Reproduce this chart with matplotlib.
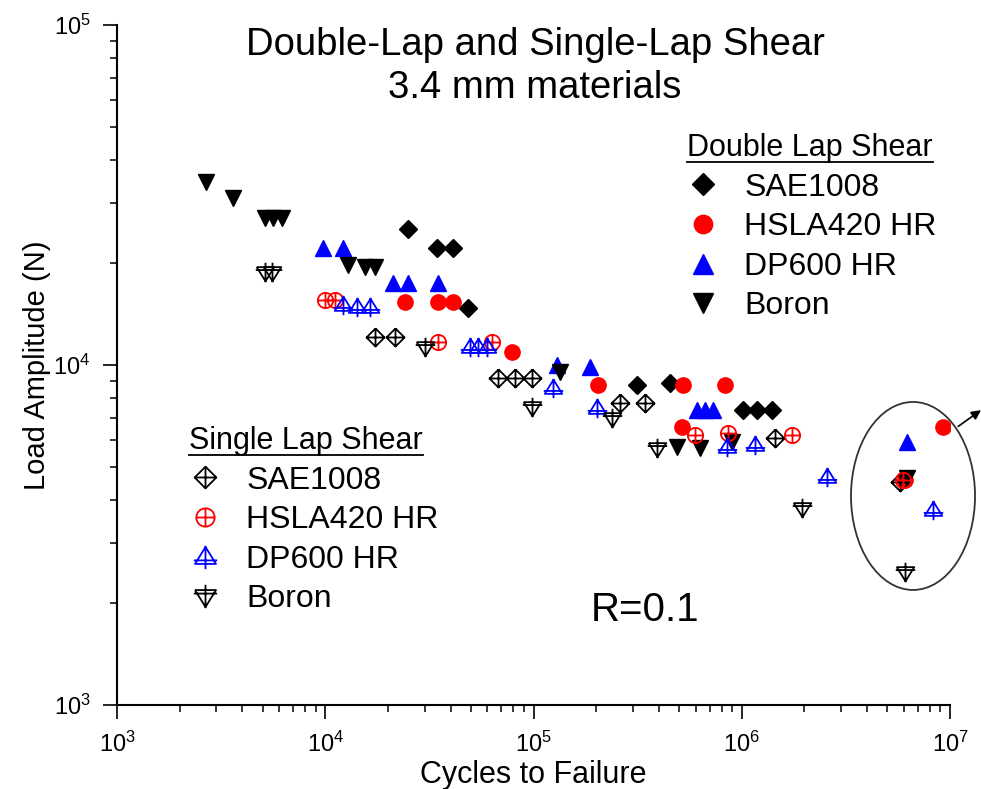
import numpy as np
import matplotlib
matplotlib.use("Agg")
import matplotlib.pyplot as plt
from matplotlib.path import Path
from matplotlib.patches import Ellipse
from matplotlib.lines import Line2D

plt.rcParams['font.family'] = ['Liberation Sans', 'DejaVu Sans']
plt.rcParams['mathtext.fontset'] = 'custom'
plt.rcParams['mathtext.rm'] = 'Liberation Sans'
plt.rcParams['mathtext.it'] = 'Liberation Sans:italic'
plt.rcParams['mathtext.bf'] = 'Liberation Sans:bold'

# Double lap shear (cycles to failure, load amplitude N)
dls_sae_n = [24900, 34400, 41000, 48500, 314000, 452000, 1014000, 1183000, 1396000]
dls_sae_p = [25100, 22100, 22100, 14700, 8730, 8850, 7380, 7380, 7380]

dls_hsla_n = [24200, 34750, 41000, 78900, 204000, 522000, 832000, 517000, 9250000, 6080000]
dls_hsla_p = [15300, 15300, 15300, 10900, 8730, 8730, 8730, 6580, 6580, 4590]

dls_dp_n = [9750, 12160, 21100, 24900, 34750, 129700, 186600, 610000, 666000, 728000, 6220000]
dls_dp_p = [22100, 22100, 17400, 17400, 17400, 10000, 9870, 7380, 7380, 7380, 5950]

dls_boron_n = [2670, 3610, 5140, 5610, 6200, 12850, 15500, 17350, 134000, 489000, 631000, 897000, 6220000]
dls_boron_p = [34500, 31000, 27000, 27000, 27000, 19700, 19400, 19400, 9530, 5740, 5700, 5950, 4650]

# Single lap shear
sls_sae_n = [17350, 21600, 67600, 81500, 98400, 260000, 343000, 1445000, 5750000]
sls_sae_p = [12080, 12080, 9160, 9160, 9160, 7730, 7730, 6100, 4530]

sls_hsla_n = [9970, 11150, 34750, 63200, 597000, 859000, 1740000, 5940000]
sls_hsla_p = [15530, 15530, 11700, 11700, 6220, 6310, 6220, 4590]

sls_dp_n = [12160, 14190, 16400, 49500, 54200, 59900, 124000, 202000, 849000, 1159000, 2560000, 8280000]
sls_dp_p = [15000, 14810, 14810, 11290, 11290, 11290, 8550, 7480, 5740, 5820, 4690, 3750]

sls_boron_n = [5140, 5550, 30100, 98400, 238000, 392000, 1946000, 6080000]
sls_boron_p = [18800, 18800, 11290, 7520, 6980, 5700, 3800, 2460]

dls_labels = ['SAE1008', 'HSLA420 HR', 'DP600 HR', 'Boron']
sls_labels = ['SAE1008', 'HSLA420 HR', 'DP600 HR', 'Boron']


# open symbols with a cross through them
def crossed(outline, hline=0.0):
    verts = list(outline) + [outline[0], (-1, hline), (1, hline), (0, -1), (0, 1)]
    codes = [Path.MOVETO] + [Path.LINETO] * len(outline) + [Path.MOVETO, Path.LINETO, Path.MOVETO, Path.LINETO]
    return Path(verts, codes)


diamond_x = crossed([(0, 1), (1, 0), (0, -1), (-1, 0)])
circle_x = Path.make_compound_path(
    Path.unit_circle(),
    Path([(-1, 0), (1, 0)], [Path.MOVETO, Path.LINETO]),
    Path([(0, -1), (0, 1)], [Path.MOVETO, Path.LINETO]))
tri_up_x = crossed([(0, 0.9), (-0.9, -0.55), (0.9, -0.55)], hline=-0.25)
tri_dn_x = crossed([(-0.9, 0.55), (0.9, 0.55), (0, -0.9)], hline=0.25)

fig = plt.figure(figsize=(9.81, 7.89), dpi=100)
ax = fig.add_axes([0.1193, 0.1065, 0.8491, 0.8618])

h1 = ax.plot(dls_sae_n, dls_sae_p, 'D', color='black', ms=9, ls='none')[0]
h2 = ax.plot(dls_hsla_n, dls_hsla_p, 'o', color='red', ms=11, ls='none')[0]
h3 = ax.plot(dls_dp_n, dls_dp_p, '^', color='blue', ms=12, ls='none')[0]
h4 = ax.plot(dls_boron_n, dls_boron_p, 'v', color='black', ms=12, ls='none')[0]

s1 = ax.plot(sls_sae_n, sls_sae_p, marker=diamond_x, color='black', mfc='none', ms=13, mew=1.3, ls='none')[0]
s2 = ax.plot(sls_hsla_n, sls_hsla_p, marker=circle_x, color='red', mfc='none', ms=11, mew=1.3, ls='none')[0]
s3 = ax.plot(sls_dp_n, sls_dp_p, marker=tri_up_x, color='blue', mfc='none', ms=14, mew=1.3, ls='none')[0]
s4 = ax.plot(sls_boron_n, sls_boron_p, marker=tri_dn_x, color='black', mfc='none', ms=14, mew=1.3, ls='none')[0]

ax.set_xscale('log')
ax.set_yscale('log')
ax.set_xlim(1e3, 1e7)
ax.set_ylim(1e3, 1e5)
for side in ['top', 'right']:
    ax.spines[side].set_visible(False)
for side in ['left', 'bottom']:
    ax.spines[side].set_linewidth(1.5)
ax.tick_params(which='major', direction='out', length=10, width=1.2, labelsize=17, pad=9)
ax.tick_params(which='minor', direction='out', length=5, width=1.1)

ax.set_xlabel('Cycles to Failure', fontsize=22, va='center')
ax.xaxis.set_label_coords(0.5, -0.103)
ax.set_ylabel('Load Amplitude (N)', fontsize=21, va='center')
ax.yaxis.set_label_coords(-0.096, 0.5)

fig.text(535 / 981, 1 - 66.5 / 789, 'Double-Lap and Single-Lap Shear\n3.4 mm materials',
         ha='center', va='center', fontsize=27.5, linespacing=1.22)
fig.text(645 / 981, 1 - 610 / 789, 'R=0.1', ha='center', va='center', fontsize=29)

leg_kw = dict(loc='upper left', bbox_transform=fig.transFigure, frameon=False,
              borderpad=0, borderaxespad=0, handlelength=1.0, handletextpad=0.8,
              labelspacing=0.3, fontsize=23, title_fontsize=22, alignment='left',
              markerscale=1.2)
leg1 = ax.legend([h1, h2, h3, h4], dls_labels, title='Double Lap Shear',
                 bbox_to_anchor=(687 / 981, 1 - 133 / 789), **leg_kw)
ax.add_artist(leg1)
leg2 = ax.legend([s1, s2, s3, s4], sls_labels, title='Single Lap Shear',
                 bbox_to_anchor=(189 / 981, 1 - 426 / 789), **leg_kw)

# circled group in the lower right
ax.add_patch(Ellipse((0.9556, 0.3074), 0.1489, 0.2765, transform=ax.transAxes,
                     fill=False, ec='#333333', lw=1.3, clip_on=False))
ax.annotate('', xy=(1.040, 0.436), xytext=(1.0072, 0.4074), xycoords='axes fraction',
            arrowprops=dict(arrowstyle='-|>', color='black', lw=1.2, mutation_scale=14),
            annotation_clip=False)

# underline the legend headers
fig.canvas.draw()
W, H = fig.bbox.width, fig.bbox.height
for leg in (leg1, leg2):
    bb = leg.get_title().get_window_extent()
    yy = bb.y0 + 1
    fig.add_artist(Line2D([bb.x0 / W, bb.x1 / W], [yy / H, yy / H],
                          transform=fig.transFigure, color='black', lw=1.3))

fig.savefig('out.png', dpi=100)
